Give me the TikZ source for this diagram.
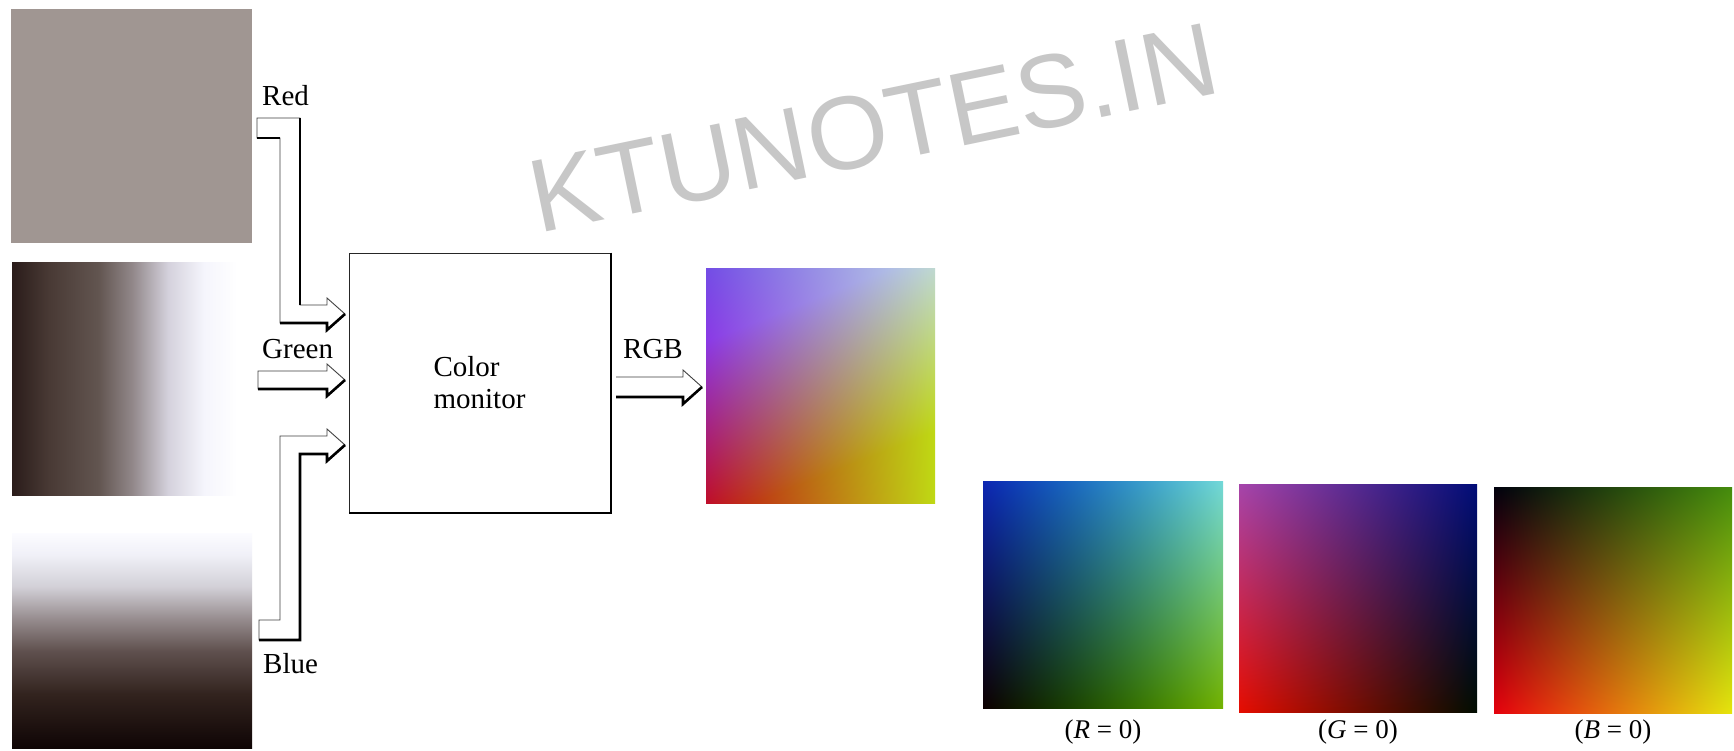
\documentclass[tikz,border=0pt]{standalone}
\usepackage{fontspec}
\setmainfont{Liberation Serif}
\newfontfamily\wmfont{Liberation Sans}
\usetikzlibrary{calc}

\definecolor{chgray}{RGB}{160,150,146}
\definecolor{g0}{RGB}{42,28,26}
\definecolor{g1}{RGB}{72,57,52}
\definecolor{g2}{RGB}{98,85,80}
\definecolor{g3}{RGB}{145,135,137}
\definecolor{g4}{RGB}{212,209,220}
\definecolor{g5}{RGB}{245,245,252}
\definecolor{b0}{RGB}{15,5,5}
\definecolor{b1}{RGB}{50,35,30}
\definecolor{b2}{RGB}{95,80,78}
\definecolor{b3}{RGB}{150,140,142}
\definecolor{b4}{RGB}{210,208,215}
\definecolor{b5}{RGB}{240,240,248}
\definecolor{b6}{RGB}{252,252,255}

\pgfdeclarehorizontalshading{greench}{100bp}{color(0bp)=(g0); color(25bp)=(g0); color(32.5bp)=(g1); color(43bp)=(g2); color(50bp)=(g3); color(57.5bp)=(g4); color(65bp)=(g5); color(72bp)=(white); color(100bp)=(white)}
\pgfdeclareverticalshading{bluech}{100bp}{color(0bp)=(b0); color(25bp)=(b0); color(37.5bp)=(b1); color(47.5bp)=(b2); color(55bp)=(b3); color(62.5bp)=(b4); color(70bp)=(b5); color(75bp)=(b6); color(100bp)=(b6)}

% stack: x y  -> u v in [0,1]
\pgfdeclarefunctionalshading{rgbimg}{\pgfpoint{0bp}{0bp}}{\pgfpoint{100bp}{100bp}}{}{
25 sub 50 div dup 0 lt {pop 0} if dup 1 gt {pop 1} if exch
25 sub 50 div dup 0 lt {pop 0} if dup 1 gt {pop 1} if exch
1 index 1 exch sub 1 index mul 0.3 mul 0.75 exch sub
2 index 1 exch sub 2 index mul 0.25 mul 3 index 0.8 mul add 0.05 add
2 index 1.3 mul 4 index 0.5 mul sub 0.1 add dup 0 lt {pop 0} if dup 1 gt {pop 1} if 0.82 mul 0.08 add
5 -2 roll pop pop
}
\pgfdeclarefunctionalshading{rzero}{\pgfpoint{0bp}{0bp}}{\pgfpoint{100bp}{100bp}}{}{
25 sub 50 div dup 0 lt {pop 0} if dup 1 gt {pop 1} if exch
25 sub 50 div dup 0 lt {pop 0} if dup 1 gt {pop 1} if exch
1 index dup mul 0.4 mul 0.05 add
2 index 0.7 mul 2 index 0.15 mul add
3 index 0.15 mul 0.7 add 3 index mul
5 -2 roll pop pop
}
\pgfdeclarefunctionalshading{gzero}{\pgfpoint{0bp}{0bp}}{\pgfpoint{100bp}{100bp}}{}{
25 sub 50 div dup 0 lt {pop 0} if dup 1 gt {pop 1} if exch
25 sub 50 div dup 0 lt {pop 0} if dup 1 gt {pop 1} if exch
1 2 index sub 0.9 2 index 0.25 mul sub mul
1 3 index sub 2 index mul 0.22 mul 0.05 add
0.67 4 index 0.2 mul sub 3 index mul
5 -2 roll pop pop
}
\pgfdeclarefunctionalshading{bzero}{\pgfpoint{0bp}{0bp}}{\pgfpoint{100bp}{100bp}}{}{
25 sub 50 div dup 0 lt {pop 0} if dup 1 gt {pop 1} if exch
25 sub 50 div dup 0 lt {pop 0} if dup 1 gt {pop 1} if exch
1 1 index sub 0.9 mul 2 index 2 index mul 0.27 mul add
0.9 2 index 0.35 mul sub 3 index mul
0.05
5 -2 roll pop pop
}

\begin{document}
\begin{tikzpicture}[x=1pt,y=-1pt,
  img/.style={inner sep=0pt, outer sep=0pt},
  lbl/.style={font=\fontsize{29}{32}\selectfont, inner sep=0pt, anchor=base west},
  capt/.style={font=\fontsize{27}{30}\selectfont, inner sep=0pt, anchor=base},
  blk/.style={draw=black!75, line width=0.9pt, fill=white, line join=miter},
  shd/.style={draw=black, line width=2.6pt, line join=miter},
  wm/.style={font=\wmfont\fontsize{104}{110}\selectfont, text=black!22, inner sep=0pt}]
\useasboundingbox (0,0) rectangle (1734,750);
\fill[white] (0,0) rectangle (1734,750);

% watermark
\node[wm, anchor=base west, rotate=11.7] (wmark) at (538,234) {KTUNOTES.IN};

% channel images
\node[img, fill=chgray, minimum width=241pt, minimum height=234pt] (redimg) at (131.5,126) {};
\node[img, shade, shading=greench, minimum width=240pt, minimum height=233pt] (greenimg) at (132,378.5) {};
\node[img, shade, shading=bluech, minimum width=240pt, minimum height=215pt] (blueimg) at (132,640.5) {};

% labels
\node[lbl] (red) at (262,105) {Red};
\node[lbl] (green) at (262,358) {Green};
\node[lbl] (blue) at (263,673) {Blue};

% monitor
\node[draw=black!85, line width=1pt, minimum width=261pt, minimum height=259pt, inner sep=0pt,
      font=\fontsize{29}{32}\selectfont, align=left] (mon) at (479.5,382.5) {Color\\monitor};
\draw[line width=2pt] (mon.north east) -- (mon.south east) -- (mon.south west);

% red arrow
\draw[blk] (257,118) -- (300,118) -- (300,305) -- (327,305) -- (327,298) -- (345,314)
  -- (327,330) -- (327,323) -- (280,323) -- (280,138) -- (257,138) -- cycle;
\draw[shd] (300,118) -- (300,305);
\draw[shd] (257,138) -- (280,138);
\draw[shd] (280,323) -- (327,323) -- (327,330) -- (345,314);

% green arrow
\draw[blk] (258,371) -- (327,371) -- (327,364) -- (345,380) -- (327,396) -- (327,389) -- (258,389) -- cycle;
\draw[shd] (258,389) -- (327,389) -- (327,396) -- (345,380);

% blue arrow
\draw[blk] (259,620) -- (280,620) -- (280,436) -- (327,436) -- (327,429) -- (345,445)
  -- (327,461) -- (327,454) -- (300,454) -- (300,640) -- (259,640) -- cycle;
\draw[shd] (345,445) -- (327,461) -- (327,454) -- (300,454) -- (300,640) -- (259,640);

% RGB output
\node[lbl] (rgb) at (623,358) {RGB};
\draw[blk] (616,377) -- (683,377) -- (683,370) -- (702,387) -- (683,404) -- (683,397) -- (616,397);
\draw[shd] (616,397) -- (683,397) -- (683,404) -- (702,387);
\node[img, shade, shading=rgbimg, minimum width=229pt, minimum height=235pt] (rgbimg) at (820.5,385.5) {};

% hidden face images
\node[img, shade, shading=rzero, minimum width=240pt, minimum height=227pt] (r0) at (1103,594.5) {};
\node[img, shade, shading=gzero, minimum width=238pt, minimum height=228pt] (g0) at (1358,598) {};
\node[img, shade, shading=bzero, minimum width=238pt, minimum height=226pt] (b0) at (1613,600) {};
\node[capt] (cr0) at (1103,738) {(\textit{R} = 0)};
\node[capt] (cg0) at (1358,738) {(\textit{G} = 0)};
\node[capt] (cb0) at (1613,738) {(\textit{B} = 0)};
\end{tikzpicture}
\end{document}
